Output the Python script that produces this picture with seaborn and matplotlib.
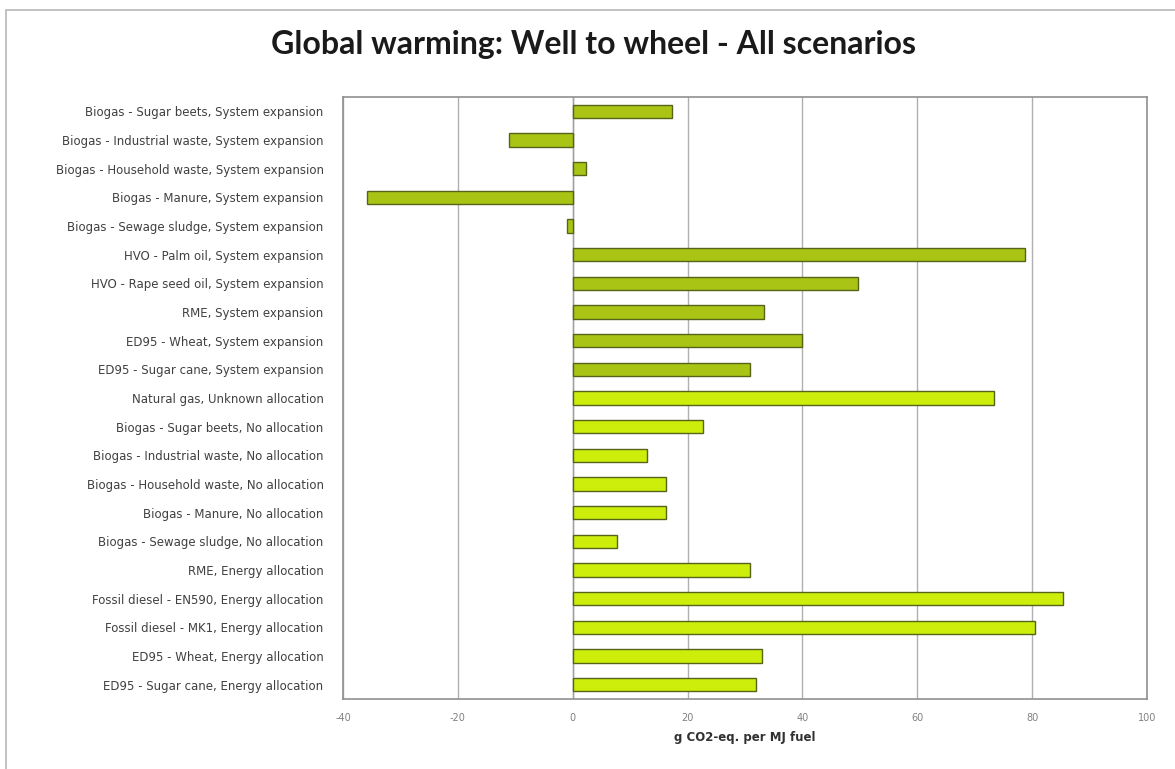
import matplotlib
matplotlib.use("Agg")
import matplotlib.pyplot as plt
import seaborn as sns
import pandas as pd
from matplotlib.patches import Rectangle

# %% dados
cenarios = [
    "Biogas - Sugar beets, System expansion",
    "Biogas - Industrial waste, System expansion",
    "Biogas - Household waste, System expansion",
    "Biogas - Manure, System expansion",
    "Biogas - Sewage sludge, System expansion",
    "HVO - Palm oil, System expansion",
    "HVO - Rape seed oil, System expansion",
    "RME, System expansion",
    "ED95 - Wheat, System expansion",
    "ED95 - Sugar cane, System expansion",
    "Natural gas, Unknown allocation",
    "Biogas - Sugar beets, No allocation",
    "Biogas - Industrial waste, No allocation",
    "Biogas - Household waste, No allocation",
    "Biogas - Manure, No allocation",
    "Biogas - Sewage sludge, No allocation",
    "RME, Energy allocation",
    "Fossil diesel - EN590, Energy allocation",
    "Fossil diesel - MK1, Energy allocation",
    "ED95 - Wheat, Energy allocation",
    "ED95 - Sugar cane, Energy allocation",
]
valores = [17.3, -11.1, 2.3, -35.8, -1.0, 78.8, 49.7, 33.3, 40.0, 30.9,
           73.4, 22.7, 13.0, 16.2, 16.2, 7.7, 30.9, 85.3, 80.5, 32.9, 31.9]
expansao = [True] * 10 + [False] * 11

cor_escura = "#a9c414"
cor_clara = "#ccee0a"
cores = [cor_escura if e else cor_clara for e in expansao]

df = pd.DataFrame({"cenario": cenarios, "valor": valores})

plt.rcParams["axes.unicode_minus"] = False

# %% figura
fig = plt.figure(figsize=(11.75, 7.69), dpi=100)
ax = fig.add_axes([0.2919, 0.0910, 0.6843, 0.7829])

sns.barplot(data=df, x="valor", y="cenario", hue="cenario", palette=cores,
            saturation=1, orient="h", width=0.47, edgecolor="#56641a",
            linewidth=1.0, legend=False, ax=ax, zorder=3)

ax.set_xlim(-40, 100)
ax.set_xticks(range(-40, 101, 20))
ax.set_ylim(len(cenarios) - 0.5, -0.5)
ax.grid(axis="x", color="#b0b0b0", linewidth=1.0, zorder=0)
ax.grid(axis="y", visible=False)
ax.axvline(0, color="#a0a0a0", linewidth=1.0, zorder=2)
for s in ax.spines.values():
    s.set_color("#909090")
    s.set_linewidth(1.2)

ax.tick_params(axis="y", length=0, pad=14, labelsize=8.5, labelcolor="#404040")
ax.tick_params(axis="x", length=0, pad=10, labelsize=7, labelcolor="#808080")
ax.set_ylabel("")
ax.set_xlabel("g CO2-eq. per MJ fuel", fontsize=8.5, fontweight="bold",
              color="#303030", labelpad=6)

fig.text(0.505, 0.942, "Global warming: Well to wheel - All scenarios",
         ha="center", va="center", fontsize=23, fontweight="bold",
         family="Lato", color="#1a1a1a")

fig.patches.append(Rectangle((0.005, -0.01), 1.2, 0.997, transform=fig.transFigure,
                             fill=False, edgecolor="#b8b8b8", linewidth=1.2))

fig.savefig("out.png", dpi=100)
